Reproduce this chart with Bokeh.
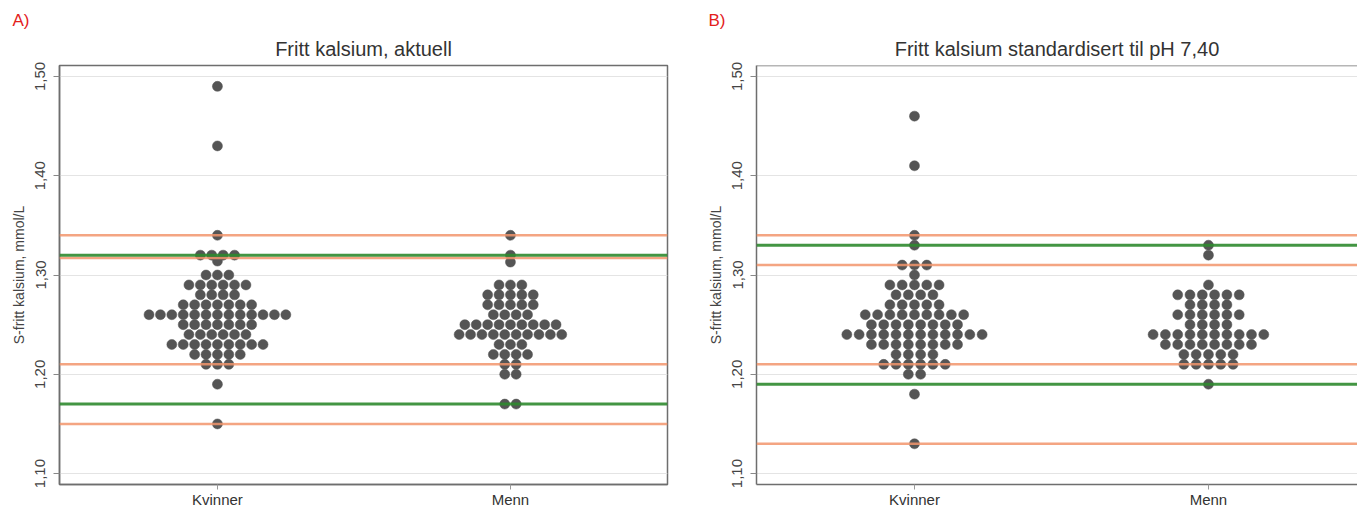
from bokeh.plotting import figure
from bokeh.layouts import row
from bokeh.models import Title, Span, FixedTicker, Range1d, ColumnDataSource
from bokeh.embed import file_html
from bokeh.resources import INLINE

# ---------------- data ----------------
groups = ["Kvinner", "Menn"]
y_ticks = [1.10, 1.20, 1.30, 1.40, 1.50]
y_tick_labels = ["1,10", "1,20", "1,30", "1,40", "1,50"]
y_axis_title = "S-fritt kalsium, mmol/L"

title_a = "Fritt kalsium, aktuell"
title_b = "Fritt kalsium standardisert til pH 7,40"

# Panel A: actual free calcium (value levels and number of subjects at each level)
a_kv_values = [1.49, 1.43, 1.34, 1.32, 1.314, 1.30, 1.29, 1.28, 1.27, 1.26, 1.25, 1.24, 1.23, 1.22, 1.21, 1.19, 1.15]
a_kv_counts = [1, 1, 1, 4, 1, 3, 6, 4, 7, 13, 7, 6, 9, 5, 3, 1, 1]
a_me_values = [1.34, 1.32, 1.313, 1.29, 1.28, 1.27, 1.26, 1.25, 1.24, 1.23, 1.22, 1.21, 1.20, 1.17]
a_me_counts = [1, 1, 1, 3, 5, 5, 4, 9, 10, 3, 4, 2, 2, 2]
a_orange_limits = [1.34, 1.317, 1.21, 1.15]
a_green_limits = [1.32, 1.17]

# Panel B: free calcium standardised to pH 7.40
b_kv_values = [1.46, 1.41, 1.34, 1.33, 1.31, 1.30, 1.29, 1.28, 1.27, 1.26, 1.25, 1.24, 1.23, 1.22, 1.21, 1.20, 1.18, 1.13]
b_kv_counts = [1, 1, 1, 1, 3, 1, 5, 4, 5, 9, 8, 12, 8, 4, 6, 2, 1, 1]
b_me_values = [1.33, 1.32, 1.29, 1.28, 1.27, 1.26, 1.25, 1.24, 1.23, 1.22, 1.21, 1.19]
b_me_counts = [1, 1, 1, 6, 4, 6, 4, 10, 8, 5, 5, 1]
b_orange_limits = [1.34, 1.31, 1.21, 1.13]
b_green_limits = [1.33, 1.19]

FONT = "Liberation Sans"
ORANGE = "#f2956c"
GREEN = "#2f8a2f"
DOT = "#555555"
FRAME = "#6e6e6e"


def dot_layout(center, values, counts, step):
    xs, ys = [], []
    for v, n in zip(values, counts):
        for i in range(n):
            xs.append(center + (i - (n - 1) / 2.0) * step)
            ys.append(v)
    return xs, ys


def make_panel(width, border_left, border_right, x_start, x_end, title,
               kv_vals, kv_cnts, me_vals, me_cnts, orange, green, step,
               letter, letter_offset, title_offset=0, outline=True):
    y_start, y_end = 1.089, 1.511
    p = figure(width=width, height=510, output_backend="svg", toolbar_location=None,
               x_range=Range1d(x_start, x_end), y_range=Range1d(y_start, y_end),
               min_border_left=border_left, min_border_right=border_right,
               min_border_top=65, min_border_bottom=24,
               background_fill_color="white", border_fill_color="white")
    p.outline_line_color = FRAME if outline else None
    p.outline_line_width = 1.5

    # panel letter (outermost title)
    p.title.text = letter
    p.title.align = "left"
    p.title.offset = letter_offset
    p.title.text_font = FONT
    p.title.text_font_size = "17px"
    p.title.text_font_style = "normal"
    p.title.text_color = "#e3201b"
    p.title.standoff = 0

    # main title, closest to the frame
    p.add_layout(Title(text=title, align="center", offset=title_offset,
                       text_color="#333333", text_font=FONT, text_font_size="20px",
                       text_font_style="normal", standoff=12), "above")

    # grid
    p.xgrid.visible = False
    p.ygrid.ticker = FixedTicker(ticks=y_ticks)
    p.ygrid.grid_line_color = "#e4e4e4"
    p.ygrid.grid_line_width = 1

    # y axis
    ya = p.yaxis[0]
    ya.ticker = FixedTicker(ticks=y_ticks)
    ya.major_label_overrides = {t: l for t, l in zip(y_ticks, y_tick_labels)}
    ya.major_label_orientation = "vertical"
    ya.major_label_text_font = FONT
    ya.major_label_text_font_size = "15px"
    ya.major_label_text_color = "#444444"
    ya.major_label_standoff = 8
    ya.major_tick_out = 6
    ya.major_tick_in = 0
    ya.major_tick_line_color = "#888888"
    ya.minor_tick_line_color = None
    ya.axis_line_color = FRAME
    ya.axis_line_width = 1.5
    ya.axis_label = y_axis_title
    ya.axis_label_text_font = FONT
    ya.axis_label_text_font_size = "14px"
    ya.axis_label_text_font_style = "normal"
    ya.axis_label_text_color = "#444444"
    ya.axis_label_standoff = 6

    # x axis
    xa = p.xaxis[0]
    xa.ticker = FixedTicker(ticks=[1, 2])
    xa.major_label_overrides = {1: groups[0], 2: groups[1]}
    xa.major_label_text_font = FONT
    xa.major_label_text_font_size = "15px"
    xa.major_label_text_color = "#333333"
    xa.major_label_standoff = 1
    xa.major_tick_out = 5
    xa.major_tick_in = 0
    xa.major_tick_line_color = "#999999"
    xa.minor_tick_line_color = None
    xa.axis_line_color = FRAME
    xa.axis_line_width = 1.5

    if not outline:
        p.add_layout(Span(location=y_end, dimension="width", line_color=FRAME, line_width=1.5))

    # dots
    kx, ky = dot_layout(1, kv_vals, kv_cnts, step)
    mx, my = dot_layout(2, me_vals, me_cnts, step)
    src = ColumnDataSource(dict(x=kx + mx, y=ky + my))
    p.scatter("x", "y", source=src, size=10, fill_color=DOT, line_color=DOT,
              line_width=0.5)

    # reference lines (drawn over dots)
    for v in orange:
        p.add_layout(Span(location=v, dimension="width", line_color=ORANGE,
                          line_width=2.5, line_alpha=0.85))
    for v in green:
        p.add_layout(Span(location=v, dimension="width", line_color=GREEN,
                          line_width=3, line_alpha=0.9))
    return p


pa = make_panel(690, 59, 23, 0.461, 2.536, title_a,
                a_kv_values, a_kv_counts, a_me_values, a_me_counts,
                a_orange_limits, a_green_limits, 11.4 / 293, "A)", -47)
pb = make_panel(667, 66, 0, 0.4626, 2.507, title_b,
                b_kv_values, b_kv_counts, b_me_values, b_me_counts,
                b_orange_limits, b_green_limits, 12.3 / 294, "B)", -48,
                title_offset=4, outline=False)

layout = row(pa, pb, spacing=0)
open("out.html", "w").write(file_html(layout, INLINE))
